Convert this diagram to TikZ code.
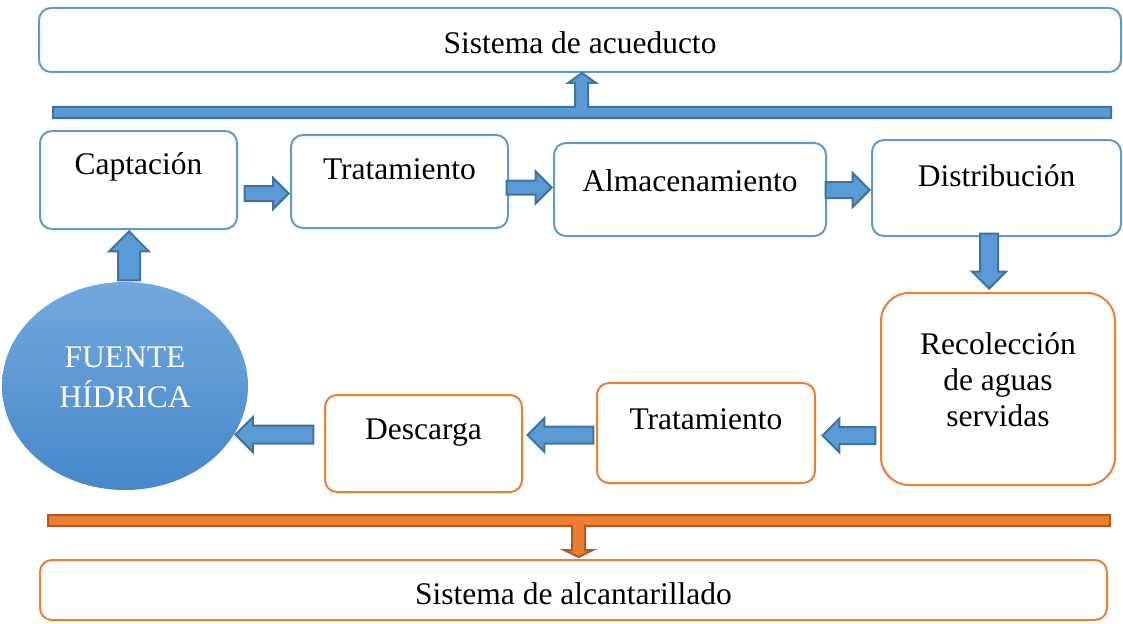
\documentclass[tikz,border=0pt]{standalone}
\usepackage{fontspec}
\setmainfont{Liberation Serif}
\usetikzlibrary{shapes.geometric}
\usetikzlibrary{shapes.arrows}
\usetikzlibrary{positioning}
\definecolor{acuaBlue}{HTML}{5B9BD5}
\definecolor{acuaDark}{HTML}{41719C}
\definecolor{alcOrange}{HTML}{ED7D31}
\definecolor{alcDark}{HTML}{AE5A21}

\begin{document}
\begin{tikzpicture}[x=1pt, y=-1pt,
    every node/.style={font=\fontsize{31.5}{36}\selectfont},
    bluebox/.style={draw=acuaBlue, line width=2, rounded corners=12, inner sep=0},
    orangebox/.style={draw=alcOrange, line width=2, rounded corners=12, inner sep=0},
    flecha/.style={single arrow, draw=acuaDark, fill=acuaBlue, line width=2, inner xsep=0,
        anchor=tip, single arrow tip angle=90}]
    \useasboundingbox (0,0) rectangle (1123,623);

    % sistema de acueducto
    \node[bluebox, minimum width=1082, minimum height=64,
        label={[yshift=-3]center:Sistema de acueducto}] (acued) at (580,40) {};
    \draw[line width=2, draw=acuaDark, fill=acuaBlue] (53,107) -- (575,107) -- (575,83) -- (568,83) -- (582,73) -- (596,83) -- (588,83) -- (588,107) -- (1111,107) -- (1111,118) -- (53,118) -- cycle;

    \node[bluebox, minimum width=197, minimum height=98,
        label={[yshift=13]center:Captación}] (capt) at (138.5,180) {};
    \node[bluebox, minimum width=217, minimum height=93,
        label={[yshift=12]center:Tratamiento}] (trat) at (399.5,181.5) {};
    \node[bluebox, minimum width=272, minimum height=93,
        label={[yshift=9]center:Almacenamiento}] (alm) at (690,189.5) {};
    \node[bluebox, minimum width=249, minimum height=96,
        label={[yshift=12]center:Distribución}] (dist) at (996.5,188) {};

    % sistema de alcantarillado
    \node[orangebox, minimum width=234, minimum height=192, rounded corners=28,
        label={[yshift=9, align=center]center:Recolección\\de aguas\\servidas}] (recol) at (998,389) {};
    \node[orangebox, minimum width=218, minimum height=100,
        label={[yshift=14]center:Tratamiento}] (trat2) at (706,433) {};
    \node[orangebox, minimum width=197, minimum height=97,
        label={[yshift=11]center:Descarga}] (desc) at (423.5,443.5) {};

    \node[ellipse, minimum width=246, minimum height=208, inner sep=0,
        top color={rgb,255:red,114;green,168;blue,221}, bottom color={rgb,255:red,70;green,136;blue,202},
        label={[yshift=9, text=white, align=center, font=\fontsize{31.5}{40}\selectfont]center:FUENTE\\HÍDRICA}] (fuente) at (125,386) {};

    \draw[line width=2, draw=alcDark, fill=alcOrange] (48,515) -- (1110,515) -- (1110,526) -- (585,526) -- (585,550) -- (593,550) -- (578.5,557) -- (564,550) -- (572,550) -- (572,526) -- (48,526) -- cycle;
    \node[orangebox, minimum width=1067, minimum height=60,
        label={[yshift=-4]center:Sistema de alcantarillado}] (alcan) at (573.5,590) {};

    % flechas
    \node[flecha, minimum height=44, inner ysep=6.5, single arrow head extend=8] at ([yshift=-12]trat.west) {};
    \node[flecha, minimum height=45, inner ysep=6, single arrow head extend=9] at ([yshift=2]alm.west) {};
    \node[flecha, minimum height=44, inner ysep=7, single arrow head extend=9] at ([yshift=-2]dist.west) {};
    \node[flecha, rotate=-90, minimum height=55, inner ysep=8, single arrow head extend=8] at ([xshift=-9,yshift=2]recol.north) {};
    \node[flecha, rotate=180, minimum height=53, inner ysep=7.5, single arrow head extend=8.5] at ([xshift=5,yshift=-2.5]trat2.east) {};
    \node[flecha, rotate=180, minimum height=66, inner ysep=7.5, single arrow head extend=8.5] at ([xshift=3,yshift=8.5]desc.east) {};
    \node[flecha, rotate=180, minimum height=78, inner ysep=8, single arrow head extend=8.5] at (fuente.-24) {};
    \node[flecha, rotate=90, minimum height=49, inner ysep=10, single arrow head extend=9] at ([xshift=-9.5]capt.south) {};
\end{tikzpicture}
\end{document}
